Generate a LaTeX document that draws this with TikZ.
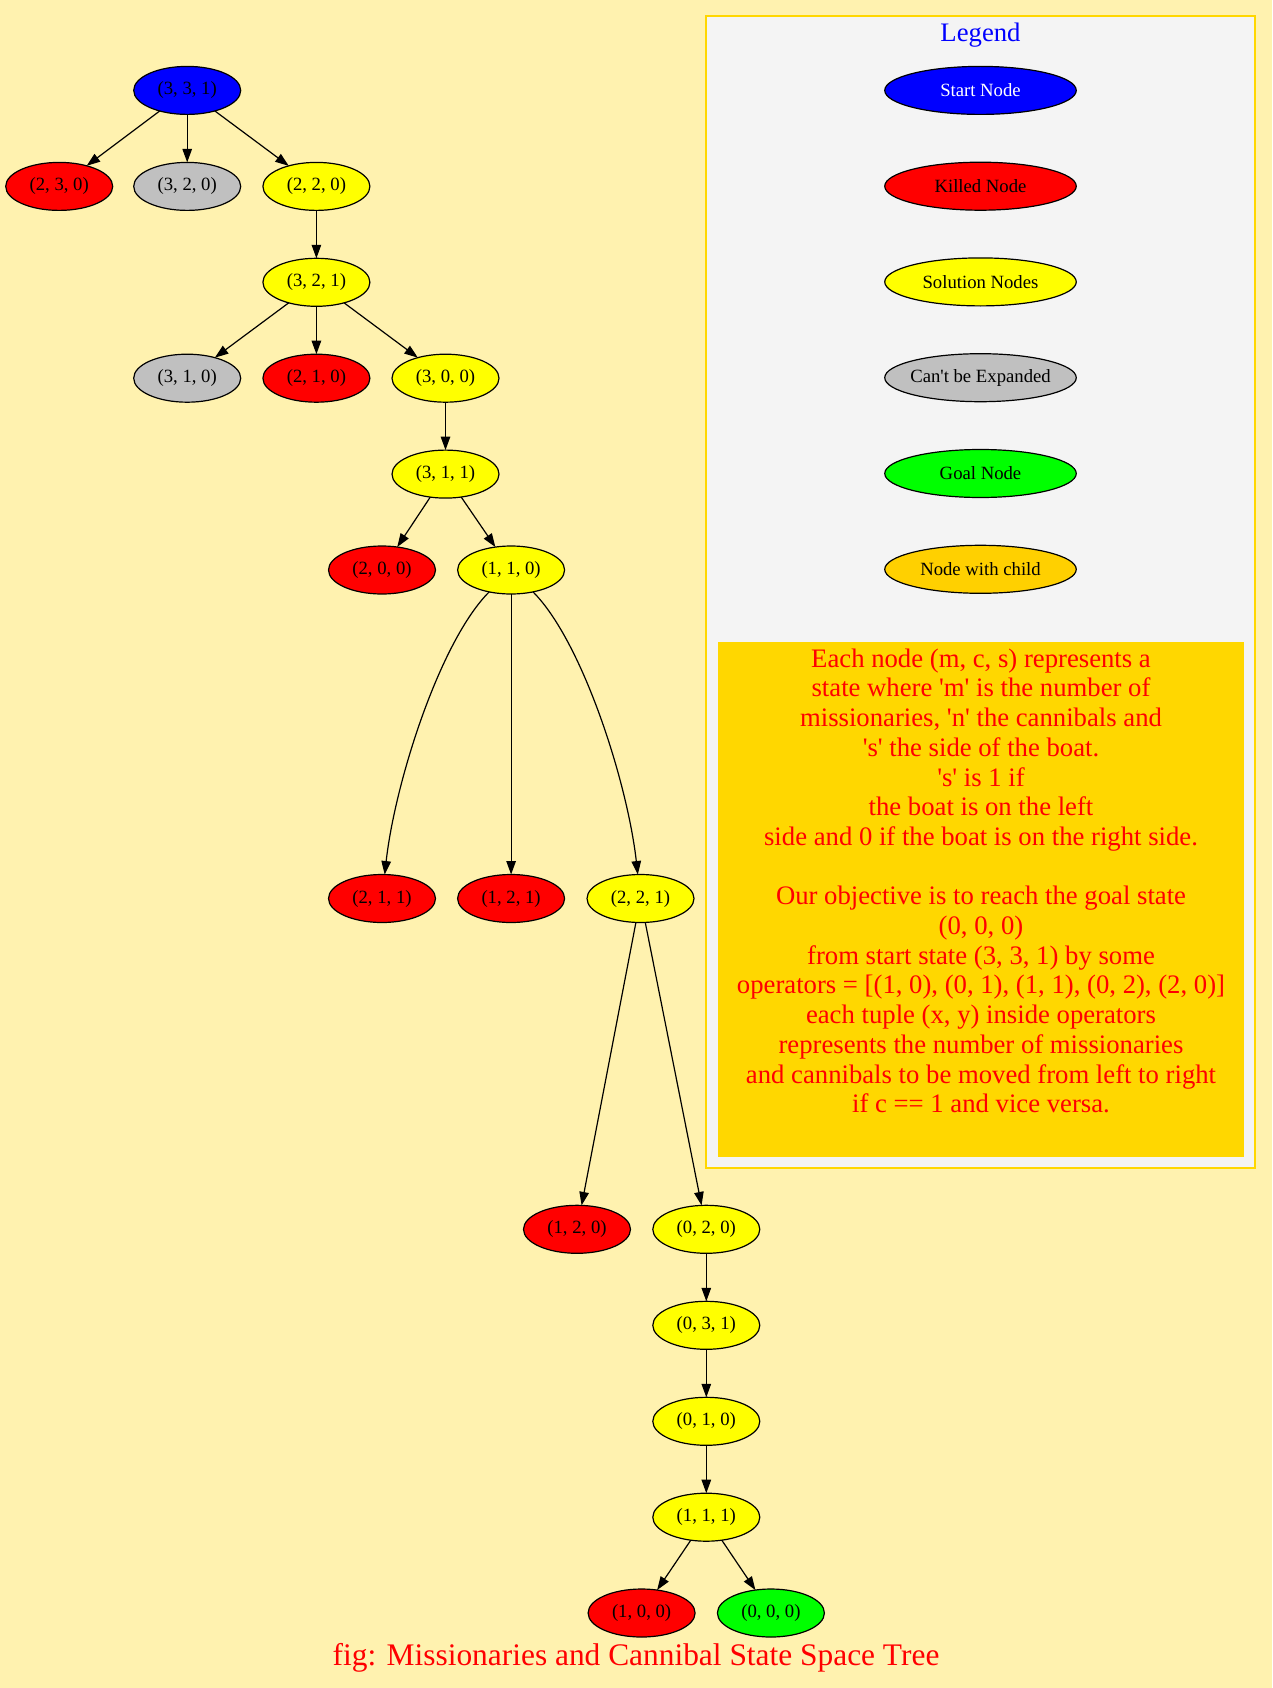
\documentclass[tikz,border=0pt]{standalone}
\usepackage{fontspec}
\setmainfont{Liberation Serif}
\usetikzlibrary{shapes.geometric,arrows.meta}
\definecolor{bgc}{HTML}{FFF2AF}
\definecolor{legfill}{HTML}{F4F4F4}
\definecolor{goldc}{HTML}{FFD700}
\definecolor{childc}{HTML}{FFD000}
\definecolor{silverc}{HTML}{C0C0C0}
\definecolor{greenc}{HTML}{00FF00}
\definecolor{bluec}{HTML}{0000FF}
\definecolor{redc}{HTML}{FF0000}
\definecolor{yellowc}{HTML}{FFFF00}
\newcommand{\sq}{\textquotesingle}
\tikzset{
  st/.style={ellipse, draw=black, line width=1.2pt, inner sep=0pt, outer sep=0pt,
    minimum width=107pt, minimum height=48pt,
    font=\fontsize{18.7}{22}\selectfont,
    execute at begin node={\hbox to 0pt\bgroup\hss},
    execute at end node={\hss\egroup}},
  lg/.style={st, minimum width=191.5pt},
  killed/.style={st, fill=redc},
  sol/.style={st, fill=yellowc},
  cant/.style={st, fill=silverc},
  startn/.style={st, fill=bluec},
  goaln/.style={st, fill=greenc},
  edge/.style={draw=black, line width=1.2pt, -{Triangle[length=13.5pt,width=9.5pt]}},
  bigtxt/.style={font=\fontsize{26.7}{29.7}\selectfont, inner sep=0pt, anchor=base}
}
\begin{document}
\begin{tikzpicture}[x=1pt,y=-1pt]
\useasboundingbox (0,0) rectangle (1272,1688);
\fill[bgc] (0,0) rectangle (1272,1688);

% legend frame
\draw[goldc, line width=1.3pt, fill=legfill] (706,16) rectangle (1255,1168);
\fill[goldc] (718,642) rectangle (1244,1157);
\node[bigtxt, text=bluec] (legtitle) at (980.5,42) {Legend};
\node[lg, fill=bluec, text=white] (lstart) at (980.5,90.4) {Start Node};
\node[lg, fill=redc] (lkilled) at (980.5,186.2) {Killed Node};
\node[lg, fill=yellowc] (lsol) at (980.5,281.9) {Solution Nodes};
\node[lg, fill=silverc] (lcant) at (980.5,377.7) {Can\sq t be Expanded};
\node[lg, fill=greenc] (lgoal) at (980.5,473.5) {Goal Node};
\node[lg, fill=childc] (lchild) at (980.5,569.3) {Node with child};
\node[bigtxt, text=redc, align=center, anchor=north] (note) at (981,648.5) {Each node (m, c, s) represents a\\
 state where \sq m\sq{} is the number of\\
missionaries, \sq n\sq{} the cannibals and\\
\sq s\sq{} the side of the boat.\\
\sq s\sq{} is 1 if\\
the boat is on the left\\
side and 0 if the boat is on the right side.\\[29.7pt]
Our objective is to reach the goal state\\
(0, 0, 0)\\
from start state (3, 3, 1) by some\\
operators = [(1, 0), (0, 1), (1, 1), (0, 2), (2, 0)]\\
each tuple (x, y) inside operators\\
represents the number of missionaries\\
and cannibals to be moved from left to right\\
if c == 1 and vice versa.};

% tree nodes
\node[startn] (n331) at (187.2,90.4) {(3, 3, 1)};
\node[killed] (n230) at (59.2,186.4) {(2, 3, 0)};
\node[cant] (n320) at (187.2,186.4) {(3, 2, 0)};
\node[sol] (n220) at (316.4,186.4) {(2, 2, 0)};
\node[sol] (n321) at (316.4,282.3) {(3, 2, 1)};
\node[cant] (n310) at (187.2,378.2) {(3, 1, 0)};
\node[killed] (n210) at (316.4,378.2) {(2, 1, 0)};
\node[sol] (n300) at (445.5,378.2) {(3, 0, 0)};
\node[sol] (n311) at (445.5,474.1) {(3, 1, 1)};
\node[killed] (n200) at (382.0,570) {(2, 0, 0)};
\node[sol] (n110) at (511.1,570) {(1, 1, 0)};
\node[killed] (n211) at (382.0,898.5) {(2, 1, 1)};
\node[killed] (n121) at (511.1,898.5) {(1, 2, 1)};
\node[sol] (n221) at (640.5,898.5) {(2, 2, 1)};
\node[killed] (n120) at (577,1229.3) {(1, 2, 0)};
\node[sol] (n020) at (706.3,1229.3) {(0, 2, 0)};
\node[sol] (n031) at (706.3,1325.3) {(0, 3, 1)};
\node[sol] (n010) at (706.3,1421.3) {(0, 1, 0)};
\node[sol] (n111) at (706.3,1517.2) {(1, 1, 1)};
\node[killed] (n100) at (641.6,1613) {(1, 0, 0)};
\node[goaln] (n000) at (770.9,1613) {(0, 0, 0)};

% edges
\draw[edge] (n331) -- (n230);
\draw[edge] (n331) -- (n320);
\draw[edge] (n331) -- (n220);
\draw[edge] (n220) -- (n321);
\draw[edge] (n321) -- (n310);
\draw[edge] (n321) -- (n210);
\draw[edge] (n321) -- (n300);
\draw[edge] (n300) -- (n311);
\draw[edge] (n311) -- (n200);
\draw[edge] (n311) -- (n110);
\draw[edge] (n110) .. controls (440,641) and (395,782) .. (n211);
\draw[edge] (n110) -- (n121);
\draw[edge] (n110) .. controls (582.2,641) and (627.4,782) .. (n221);
\draw[edge] (n221) -- (n120);
\draw[edge] (n221) -- (n020);
\draw[edge] (n020) -- (n031);
\draw[edge] (n031) -- (n010);
\draw[edge] (n010) -- (n111);
\draw[edge] (n111) -- (n100);
\draw[edge] (n111) -- (n000);

% caption
\node[font=\fontsize{31.4}{36}\selectfont, inner sep=0pt, anchor=base, text=redc] (caption) at (636,1665) {fig: Missionaries and Cannibal State Space Tree};
\end{tikzpicture}
\end{document}
